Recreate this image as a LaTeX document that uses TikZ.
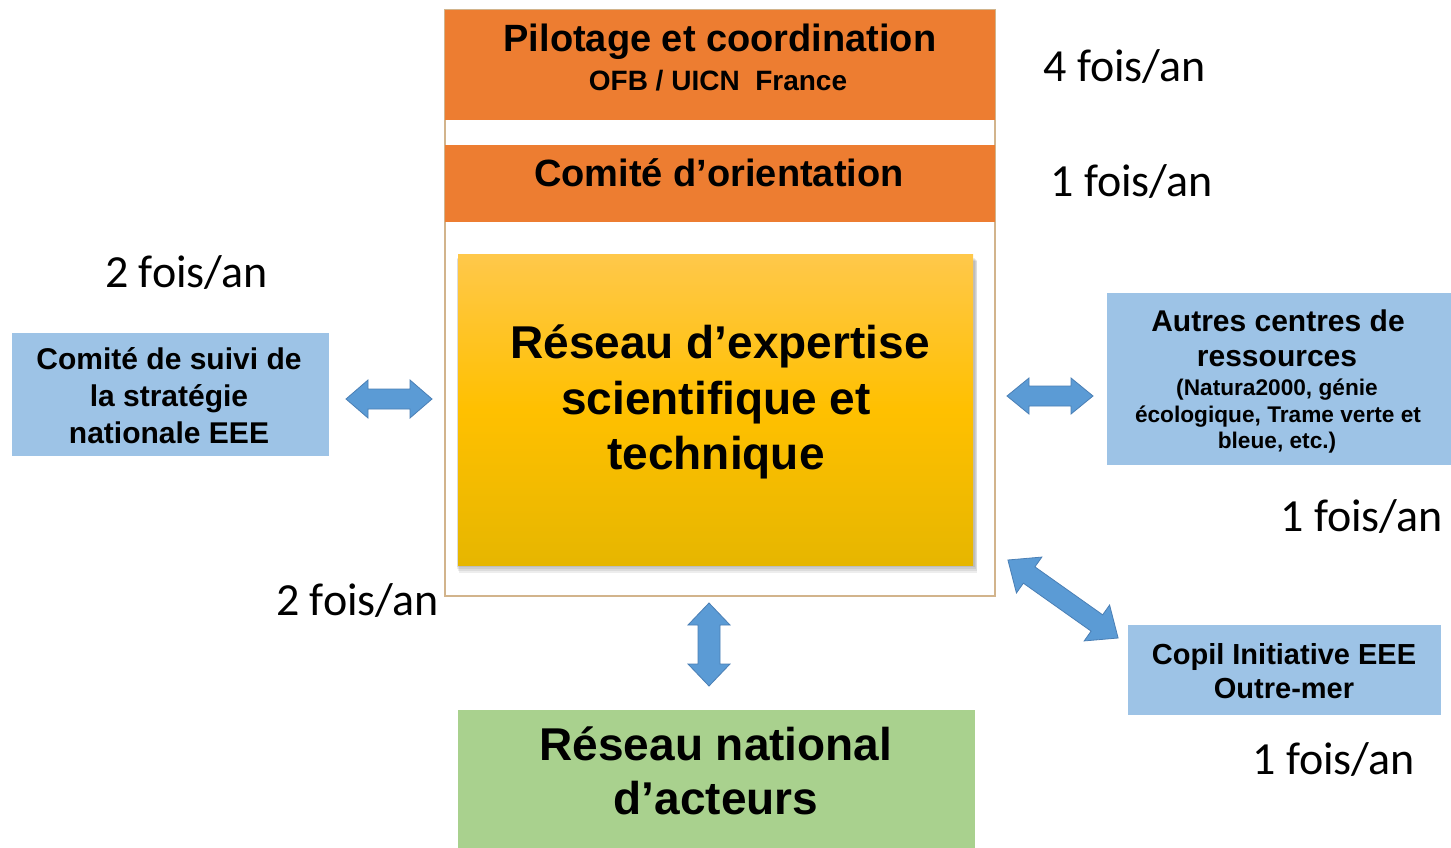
\documentclass[tikz,border=0pt]{standalone}
\usepackage{fontspec}
\setmainfont{Liberation Sans}
\newfontfamily\calib{Carlito}
\usetikzlibrary{fit}
\definecolor{orangeF}{HTML}{ED7D31}
\definecolor{blueBox}{HTML}{9DC3E6}
\definecolor{blueArrow}{HTML}{5B9BD5}
\definecolor{blueArrowEdge}{HTML}{4A7FB5}
\definecolor{greenBox}{HTML}{A9D18E}
\definecolor{frameEdge}{HTML}{D2B48C}
\definecolor{yelTop}{HTML}{FFC84A}
\definecolor{yelMid}{HTML}{FFC000}
\definecolor{yelBot}{HTML}{E6B600}
\newcommand\blockarrow[6]{% center, angle, length, head width, shaft width, head length
  \filldraw[arrowstyle, shift={(#1)}, rotate=#2]
    (-#3/2,0) -- (-#3/2+#6,-#4/2) -- (-#3/2+#6,-#5/2) -- (#3/2-#6,-#5/2) -- (#3/2-#6,-#4/2)
    -- (#3/2,0) -- (#3/2-#6,#4/2) -- (#3/2-#6,#5/2) -- (-#3/2+#6,#5/2) -- (-#3/2+#6,#4/2) -- cycle;}
\begin{document}
\begin{tikzpicture}[x=0.75pt,y=-0.75pt,
  box/.style={inner sep=0pt, outer sep=0pt},
  txt/.style={inner sep=0pt, anchor=base, font=\bfseries},
  freq/.style={inner sep=0pt, anchor=base west, font=\calib\fontsize{34.5pt}{40pt}\selectfont},
  arrowstyle/.style={fill=blueArrow, draw=blueArrowEdge, line width=0.6pt, line join=miter},
  shadowlayer/.style={fill=black, opacity=0.07}]
\useasboundingbox (0,0) rectangle (1451,848);
\fill[white] (0,0) rectangle (1451,848);

% outer frame
\node[box, draw=frameEdge, line width=1.2pt, fit={(445,10) (995,596)}] (frame) {};
% orange boxes
\node[box, fill=orangeF, fit={(445,10) (995,120)}] (pil) {};
\node[box, fill=orangeF, fit={(445,145) (995,222)}] (orient) {};
% yellow box with soft shadow
\fill[shadowlayer] (457,258) rectangle (975,567);
\fill[shadowlayer] (457,259) rectangle (976,569);
\fill[shadowlayer] (458,260) rectangle (977,571);
\fill[shadowlayer] (459,261) rectangle (977,573);
\node[box, fit={(458,255) (973,565)}, top color=yelTop, bottom color=yelBot, middle color=yelMid] (expert) {};
% blue boxes
\node[box, fill=blueBox, fit={(12,333) (329,456)}] (suivi) {};
\node[box, fill=blueBox, fit={(1107,293) (1451,465)}] (autres) {};
\node[box, fill=blueBox, fit={(1128,625) (1441,715)}] (copil) {};
% green box
\node[box, fill=greenBox, fit={(458,710) (975,848)}] (acteurs) {};

% texts
\node[txt, font=\bfseries\fontsize{28.5pt}{34pt}\selectfont] (pilA) at (720,52) {Pilotage et coordination};
\node[txt, font=\bfseries\fontsize{21pt}{25pt}\selectfont] (pilB) at (718,91) {OFB / UICN\ \ France};
\node[txt, font=\bfseries\fontsize{28.5pt}{34pt}\selectfont] (oriA) at (719,187) {Comité d’orientation};

\node[txt, font=\bfseries\fontsize{34.5pt}{41pt}\selectfont] (expA) at (720,358) {Réseau d’expertise};
\node[txt, font=\bfseries\fontsize{34.5pt}{41pt}\selectfont] (expB) at (716,414) {scientifique et};
\node[txt, font=\bfseries\fontsize{34.5pt}{41pt}\selectfont] (expC) at (716,469) {technique};

\node[txt, font=\bfseries\fontsize{34.5pt}{41pt}\selectfont] (actA) at (716,760) {Réseau national};
\node[txt, font=\bfseries\fontsize{34.5pt}{41pt}\selectfont] (actB) at (716,814) {d’acteurs};

\node[txt, font=\bfseries\fontsize{22.5pt}{27pt}\selectfont] (suiA) at (169,369) {Comité de suivi de};
\node[txt, font=\bfseries\fontsize{22.5pt}{27pt}\selectfont] (suiB) at (169,406) {la stratégie};
\node[txt, font=\bfseries\fontsize{22.5pt}{27pt}\selectfont] (suiC) at (169,443) {nationale EEE};

\node[txt, font=\bfseries\fontsize{22.5pt}{27pt}\selectfont] (autA) at (1278,331) {Autres centres de};
\node[txt, font=\bfseries\fontsize{22.5pt}{27pt}\selectfont] (autB) at (1277,366) {ressources};
\node[txt, font=\bfseries\fontsize{17pt}{20pt}\selectfont] (autC) at (1277,395) {(Natura2000, génie};
\node[txt, font=\bfseries\fontsize{17pt}{20pt}\selectfont] (autD) at (1278,422) {écologique, Trame verte et};
\node[txt, font=\bfseries\fontsize{17pt}{20pt}\selectfont] (autE) at (1277,448) {bleue, etc.)};

\node[txt, font=\bfseries\fontsize{21.75pt}{26pt}\selectfont] (copA) at (1284,664) {Copil Initiative EEE};
\node[txt, font=\bfseries\fontsize{21.75pt}{26pt}\selectfont] (copB) at (1284,698) {Outre-mer};

% frequencies
\node[freq] (f1) at (1043,82) {4 fois/an};
\node[freq] (f2) at (1050,197) {1 fois/an};
\node[freq] (f3) at (105,288) {2 fois/an};
\node[freq] (f4) at (1280,531) {1 fois/an};
\node[freq] (f5) at (276,615) {2 fois/an};
\node[freq] (f6) at (1252,774) {1 fois/an};

% block arrows
\coordinate (aLeft) at (389,399);
\coordinate (aRight) at (1050,396);
\coordinate (aDown) at (709,644.5);
\coordinate (aDiag) at (1063,599);
\blockarrow{aLeft}{0}{86}{38}{20}{22}
\blockarrow{aRight}{0}{86}{36}{20}{22}
\blockarrow{aDown}{90}{83}{42}{22}{22}
\blockarrow{aDiag}{-35.3}{135}{44}{20}{26}
\end{tikzpicture}
\end{document}
